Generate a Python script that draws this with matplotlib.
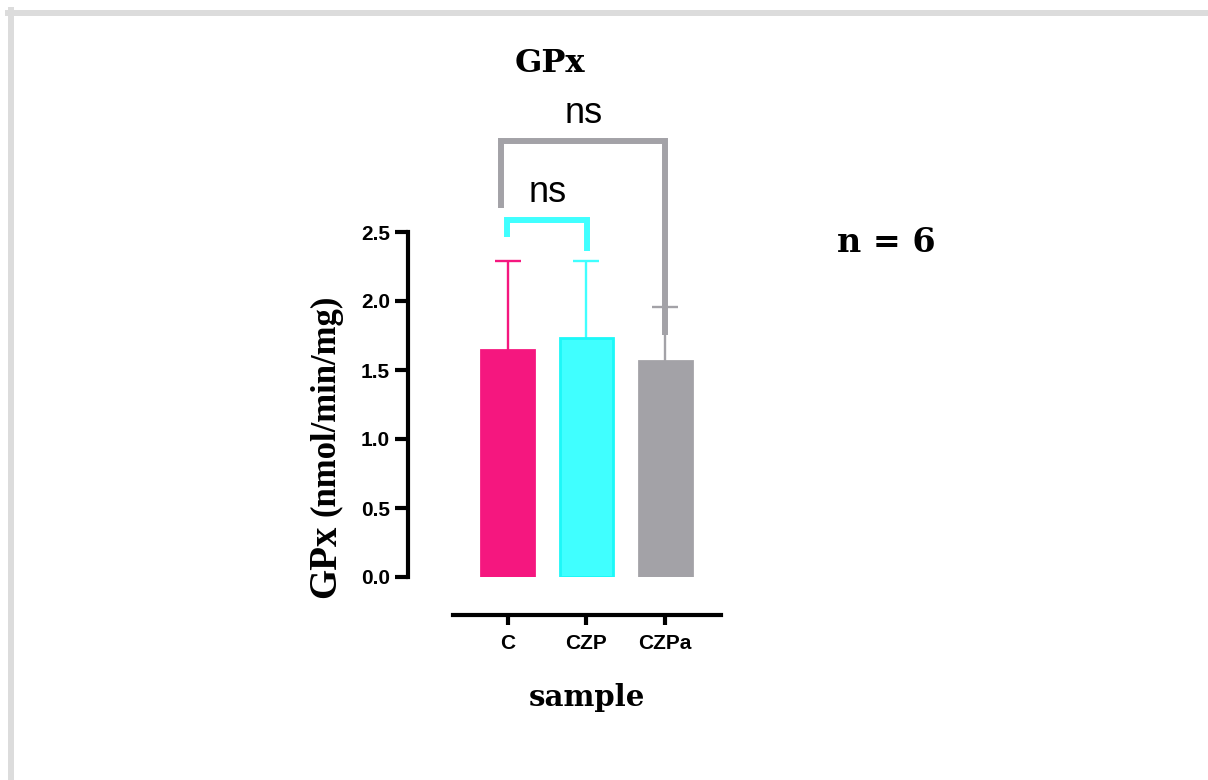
import matplotlib
matplotlib.use("Agg")
import matplotlib.pyplot as plt
from matplotlib.lines import Line2D
import numpy as np

# data
groups = ["C", "CZP", "CZPa"]
means = [1.645, 1.734, 1.565]
sds = [0.643, 0.554, 0.392]
colors = ["#F5177F", "#40FFFF", "#A3A2A7"]
edges = ["#F5177F", "#1CF8F8", "#A3A2A7"]
y_ticks = [0.0, 0.5, 1.0, 1.5, 2.0, 2.5]
n_label = "n = 6"

W, H = 1208, 780


def px(x, y):
    return x / W, 1 - y / H


fig = plt.figure(figsize=(W / 100, H / 100), dpi=100)

# light grey frame at top / left
fig.add_artist(Line2D([8 / W, 1], [1 - 13 / H, 1 - 13 / H], color="#DCDCDC",
                      lw=4.3, transform=fig.transFigure))
fig.add_artist(Line2D([11 / W, 11 / W], [0, 1 - 10 / H], color="#DCDCDC",
                      lw=4.3, transform=fig.transFigure))

l, b = px(453, 577)
r, t = px(721, 232)
ax = fig.add_axes([l, b, r - l, t - b])

x = np.arange(len(groups))
ax.bar(x, means, width=0.67, color=colors, edgecolor=edges, linewidth=2, zorder=2)
for i in range(len(groups)):
    res = ax.errorbar(x[i], means[i], yerr=[[0], [sds[i]]], fmt="none",
                      ecolor=colors[i], elinewidth=1.7, capsize=9.4, capthick=1.7,
                      zorder=1)
    res[1][0].set_visible(False)

ax.set_xlim(-0.692, 2.709)
ax.set_ylim(0, 2.5)
ax.set_yticks(y_ticks)
ax.set_yticklabels([f"{v:.1f}" for v in y_ticks])
ax.set_xticks(x)
ax.set_xticklabels(groups)

for s in ["top", "right"]:
    ax.spines[s].set_visible(False)
ax.spines["left"].set_position(("outward", 32.4))
ax.spines["left"].set_bounds(0, 2.5)
ax.spines["bottom"].set_position(("outward", 27))
for s in ["left", "bottom"]:
    ax.spines[s].set_linewidth(3)
ax.tick_params(axis="y", length=9.4, width=3, pad=3.5)
ax.tick_params(axis="x", length=7.5, width=3, pad=6.5)
for lab in ax.get_xticklabels() + ax.get_yticklabels():
    lab.set_fontfamily("Liberation Sans")
    lab.set_fontweight("bold")
    lab.set_fontsize(15)

# significance brackets
lw_br = 4.3
ax.plot([-0.003, -0.003, 1.01, 1.01], [2.464, 2.589, 2.589, 2.365],
        color="#40FFFF", lw=lw_br, clip_on=False, solid_joinstyle="miter",
        solid_capstyle="butt", zorder=3)
ax.text(0.513, 2.717, "ns", ha="center", va="baseline", fontsize=26,
        family="Liberation Sans")
ax.plot([-0.085, -0.085, 2.0, 2.0], [2.674, 3.157, 3.157, 1.754],
        color="#A3A2A7", lw=lw_br, clip_on=False, solid_joinstyle="miter",
        solid_capstyle="butt", zorder=3)
ax.text(0.968, 3.29, "ns", ha="center", va="baseline", fontsize=26,
        family="Liberation Sans")

# titles and labels
fig.text(*px(549.5, 71.7), "GPx", ha="center", va="baseline", fontsize=23,
         family="DejaVu Serif", fontweight="bold")
fig.text(*px(587, 706), "sample", ha="center", va="baseline", fontsize=21,
         family="DejaVu Serif", fontweight="bold")
fig.text(*px(837, 252), n_label, ha="left", va="baseline", fontsize=24,
         family="DejaVu Serif", fontweight="bold")
fig.text(*px(326, 561), "GPx", rotation=90, ha="center", va="center", fontsize=28,
         family="Liberation Serif", fontweight="bold")
fig.text(*px(326, 405), "(nmol/min/mg)", rotation=90, ha="center", va="center",
         fontsize=25, family="Liberation Serif", fontweight="bold")

fig.savefig("out.png", dpi=100)
